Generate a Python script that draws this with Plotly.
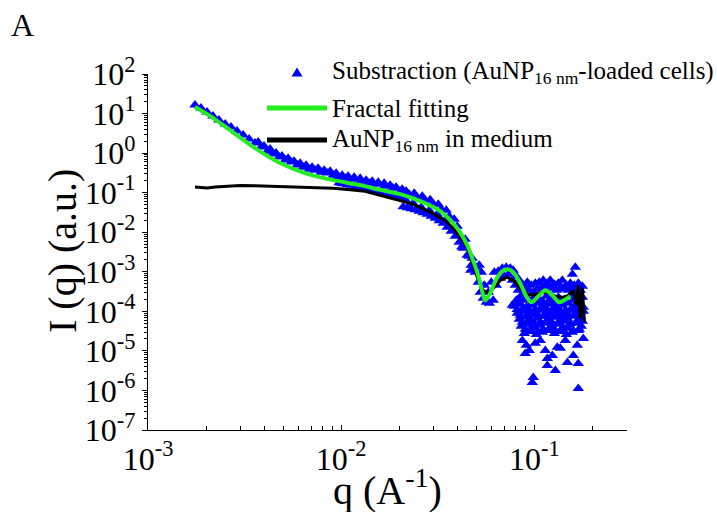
import plotly.graph_objects as go

# ---- SAXS curves ---------------------------------------------------------
# Subtracted scattering of AuNP(16 nm)-loaded cells (blue triangles)
sub_q_low = [0.00175, 0.00188, 0.00202, 0.00217, 0.00233, 0.00251, 0.00269, 0.00289,
             0.00311, 0.00334, 0.00358, 0.00385, 0.00414, 0.00444, 0.00477, 0.00513,
             0.00551, 0.00592, 0.00635, 0.00683, 0.00733, 0.00788, 0.00846, 0.00909]
sub_i_low = [16.4, 13.8, 10.9, 8.65, 6.84, 5.42, 4.55, 3.61,
             2.86, 2.26, 1.79, 1.42, 1.12, 0.943, 0.792, 0.665,
             0.592, 0.497, 0.442, 0.393, 0.371, 0.330, 0.312, 0.277]

sub_q_upper = [0.003716, 0.003988, 0.004286, 0.004602, 0.004943, 0.005312, 0.005706,
               0.006131, 0.006586, 0.007074, 0.0076, 0.008165, 0.00877, 0.009421,
               0.01012, 0.01087, 0.01168, 0.01254, 0.01347, 0.01447, 0.01555, 0.0167,
               0.01794, 0.01927, 0.0207, 0.02171, 0.02389, 0.02628, 0.02891, 0.03182,
               0.03500, 0.03850]
sub_i_upper = [1.899, 1.504, 1.263, 1.0, 0.8396, 0.7468, 0.6271,
               0.5581, 0.4968, 0.4421, 0.4172, 0.3713, 0.3503, 0.3117,
               0.2774, 0.2617, 0.2468, 0.2329, 0.2073, 0.1955, 0.1845, 0.1739,
               0.1548, 0.1378, 0.1226, 0.1092, 0.0971, 0.0815, 0.0665, 0.0512,
               0.0361, 0.02134]

sub_q_mid = [0.009534, 0.01, 0.01049, 0.011003, 0.01154, 0.012104, 0.012695, 0.013316,
             0.013966, 0.014648, 0.015364, 0.016114, 0.016902, 0.017727, 0.018593,
             0.019502, 0.020454, 0.021453, 0.022501, 0.023601, 0.024753, 0.025963,
             0.027231, 0.028561, 0.029956, 0.03142, 0.032955, 0.034564, 0.036253,
             0.038024, 0.03988, 0.041829, 0.043872, 0.046015, 0.047691, 0.049426,
             0.0421, 0.0469, 0.0500, 0.0519]
sub_i_mid = [0.2468, 0.1739, 0.2329, 0.1641, 0.2197, 0.1461, 0.1955, 0.1300,
             0.1739, 0.1157, 0.1641, 0.1092, 0.1461, 0.0971, 0.1300,
             0.0815, 0.1092, 0.0684, 0.0916, 0.0542, 0.0769, 0.0430,
             0.0646, 0.0361, 0.0512, 0.02855, 0.03822, 0.02013, 0.02542,
             0.01191, 0.01418, 0.006272, 0.006648, 0.002469, 0.002197, 0.000971,
             0.00420, 0.00110, 0.00130, 0.00146]

sub_q_band = [0.009764, 0.010241, 0.010742, 0.011267, 0.011818, 0.012396, 0.013002,
              0.013637, 0.014304, 0.015003, 0.015736, 0.016505, 0.017311, 0.018157,
              0.019044, 0.019975, 0.020951, 0.021975, 0.023048, 0.024174, 0.025356,
              0.026595, 0.027894, 0.029257, 0.030687, 0.032186, 0.033759, 0.035408,
              0.037138, 0.038953, 0.040856, 0.042852, 0.044946, 0.047142]
sub_i_band = [0.1791, 0.1690, 0.1594, 0.1548, 0.1461, 0.1378, 0.1300,
              0.1226, 0.1157, 0.1092, 0.1030, 0.1000, 0.0943, 0.0890,
              0.0839, 0.0792, 0.04420, 0.04172, 0.03934, 0.03713, 0.03401,
              0.03116, 0.02855, 0.02542, 0.02262, 0.01955, 0.01690, 0.01338,
              0.01060, 0.00792, 0.00558, 0.00393, 0.00262, 0.00146]

sub_q_high = [0.0513, 0.0525, 0.0532, 0.0544, 0.0551, 0.0564, 0.0578, 0.0585, 0.0599,
              0.0613, 0.0621, 0.0636, 0.0651, 0.0667, 0.0683, 0.0699, 0.0716, 0.0733,
              0.0751, 0.0769, 0.0778, 0.0797, 0.0807, 0.0826, 0.0836, 0.0856, 0.0867,
              0.0888, 0.0898, 0.0769,
              0.0920, 0.0942, 0.0965, 0.0988, 0.1012, 0.1036, 0.1061, 0.1087, 0.1113,
              0.1140, 0.1168, 0.1196, 0.1210, 0.1240, 0.1270, 0.1300, 0.1332, 0.1364,
              0.1397, 0.1430, 0.1465, 0.1500, 0.1537, 0.1574, 0.1612, 0.1631, 0.1651,
              0.1690, 0.1731, 0.1773, 0.1574]
sub_i_high = [5.42e-4, 3.03e-4, 9.71e-4, 2.13e-4, 4.55e-4, 1.69e-4, 3.03e-4, 1.59e-4, 5.42e-4,
              1.90e-4, 9.71e-4, 4.55e-4, 1.03e-3, 6.84e-4, 1.23e-3, 7.69e-4, 1.30e-3, 8.64e-4,
              1.23e-3, 6.09e-4, 1.09e-3, 4.55e-4, 7.69e-4, 3.40e-4, 6.09e-4, 2.54e-4, 4.82e-4,
              2.13e-4, 4.05e-4, 1.42e-4,
              5.42e-4, 3.40e-4, 4.55e-4, 3.03e-4, 5.11e-4, 3.60e-4, 5.42e-4, 3.82e-4, 6.09e-4,
              4.29e-4, 5.11e-4, 3.82e-4, 6.09e-4, 4.05e-4, 4.82e-4, 3.40e-4, 5.11e-4, 3.60e-4,
              6.09e-4, 4.05e-4, 4.55e-4, 3.40e-4, 5.11e-4, 3.82e-4, 4.55e-4, 1.30e-3, 3.03e-4,
              5.11e-4, 3.40e-4, 4.29e-4, 8.64e-4]

sub_q_noise = [0.0807, 0.0867, 0.0931, 0.1000, 0.1074, 0.1154, 0.1240, 0.1332, 0.1430, 0.1537, 0.1651, 0.1773,
               0.0836, 0.0898, 0.0965, 0.1036, 0.1113, 0.1196, 0.1285, 0.1380, 0.1483, 0.1593, 0.1711,
               0.0788, 0.0846, 0.0909, 0.0976, 0.1049, 0.1127, 0.1210, 0.1300, 0.1397, 0.1500, 0.1612, 0.1731,
               0.0816, 0.0877, 0.0942, 0.1012, 0.1087, 0.1168, 0.1254, 0.1348, 0.1448, 0.1555, 0.1670, 0.1794,
               0.0816, 0.0877, 0.0942, 0.1012, 0.1087, 0.1168, 0.1254, 0.1348, 0.1448, 0.1555, 0.1670, 0.1794,
               0.0846, 0.0909, 0.0976, 0.1049, 0.1127, 0.1210, 0.1300, 0.1397, 0.1500, 0.1612, 0.1731,
               0.0836, 0.0898, 0.0965, 0.1036, 0.1113, 0.1196, 0.1285, 0.1380, 0.1483, 0.1593, 0.1711,
               0.0867, 0.0931, 0.1000, 0.1074, 0.1154, 0.1240, 0.1332, 0.1430, 0.1537, 0.1651, 0.1773,
               0.0856, 0.0920, 0.0988, 0.1061, 0.1140, 0.1225, 0.1316, 0.1413, 0.1518, 0.1631, 0.1752,
               0.0898, 0.0965, 0.1036, 0.1113, 0.1196, 0.1285, 0.1380, 0.1483, 0.1593, 0.1711,
               0.0888, 0.0953, 0.1024, 0.1100, 0.1182, 0.1270, 0.1364, 0.1465, 0.1574, 0.1690,
               0.0867, 0.0909, 0.0898, 0.0942, 0.1012, 0.1074, 0.1140, 0.1168, 0.1240, 0.1168,
               0.1285, 0.1316, 0.1364, 0.1448, 0.1483, 0.1593, 0.1670, 0.1690, 0.1794, 0.0988,
               0.0976, 0.1690]
sub_i_noise = [1.90e-4, 2.40e-4, 2.01e-4, 2.26e-4, 1.90e-4, 2.40e-4, 2.01e-4, 2.26e-4, 1.90e-4, 2.40e-4, 2.01e-4, 2.26e-4,
               1.69e-4, 1.90e-4, 1.59e-4, 1.79e-4, 1.69e-4, 1.90e-4, 1.59e-4, 1.79e-4, 1.69e-4, 1.90e-4, 1.59e-4,
               1.34e-4, 1.50e-4, 1.26e-4, 1.42e-4, 1.59e-4, 1.34e-4, 1.50e-4, 1.26e-4, 1.42e-4, 1.59e-4, 1.34e-4, 1.50e-4,
               1.12e-4, 1.19e-4, 1.06e-4, 1.12e-4, 1.26e-4, 1.06e-4, 1.19e-4, 1.12e-4, 1.06e-4, 1.19e-4, 1.12e-4, 1.26e-4,
               8.90e-5, 1.00e-4, 8.40e-5, 9.43e-5, 1.06e-4, 8.90e-5, 1.00e-4, 8.40e-5, 9.43e-5, 1.06e-4, 8.90e-5, 1.00e-4,
               7.92e-5, 7.47e-5, 8.40e-5, 7.92e-5, 7.47e-5, 8.40e-5, 7.92e-5, 7.47e-5, 8.40e-5, 7.92e-5, 7.47e-5,
               6.27e-5, 7.05e-5, 5.92e-5, 6.65e-5, 7.47e-5, 6.27e-5, 7.05e-5, 5.92e-5, 6.65e-5, 7.47e-5, 6.27e-5,
               5.27e-5, 5.58e-5, 4.97e-5, 5.27e-5, 5.58e-5, 4.97e-5, 5.27e-5, 5.58e-5, 4.97e-5, 5.27e-5, 5.58e-5,
               4.17e-5, 4.69e-5, 3.93e-5, 4.42e-5, 4.97e-5, 4.17e-5, 4.69e-5, 3.93e-5, 4.42e-5, 4.97e-5, 4.17e-5,
               3.50e-5, 3.71e-5, 3.30e-5, 3.50e-5, 3.71e-5, 3.30e-5, 3.50e-5, 3.71e-5, 3.30e-5, 3.50e-5,
               2.77e-5, 3.11e-5, 2.61e-5, 2.94e-5, 3.30e-5, 2.77e-5, 3.11e-5, 2.61e-5, 2.94e-5, 3.30e-5,
               1.84e-5, 1.38e-5, 8.64e-6, 1.03e-5, 1.55e-5, 1.84e-5, 1.03e-5, 6.46e-6, 7.69e-6, 4.30e-6,
               3.21e-6, 1.23e-5, 1.16e-5, 1.84e-5, 5.12e-6, 7.69e-6, 1.38e-5, 4.83e-6, 2.07e-5, 2.13e-6,
               1.59e-6, 1.12e-6]

# AuNP(16 nm) dispersed in culture medium (black line)
med_q = [0.00175, 0.00188, 0.00202, 0.00223, 0.00257, 0.00300, 0.00358, 0.00428, 0.00513,
         0.00613, 0.00751, 0.00909, 0.01114, 0.01331, 0.0159, 0.0195, 0.0236, 0.0289, 0.0338,
         0.0376, 0.0414, 0.0450, 0.0483, 0.0513, 0.0544, 0.0578, 0.0621, 0.0667, 0.0724,
         0.0787, 0.0846, 0.0920, 0.0989, 0.1074, 0.1182, 0.1286, 0.1397, 0.1500, 0.1592,
         0.1652, 0.1690, 0.1731, 0.1775, 0.1818]
med_i = [0.140, 0.135, 0.131, 0.140, 0.146, 0.152, 0.150, 0.146, 0.146,
         0.142, 0.138, 0.130, 0.119, 0.108, 0.0862, 0.0646, 0.0512, 0.0321, 0.0213,
         0.0134, 0.00747, 0.00417, 0.00146, 6.1e-4, 3.4e-4, 2.86e-4, 4.06e-4, 6.1e-4, 7.3e-4,
         5.75e-4, 3.8e-4, 2.7e-4, 2.54e-4, 3.0e-4, 3.0e-4, 2.4e-4, 2.26e-4, 2.54e-4, 3.4e-4,
         1.42e-4, 4.55e-4, 6.6e-5, 3.8e-4, 5.3e-5]

# Mass-fractal model fit (green line)
fit_q = [0.00175, 0.00210, 0.00266, 0.00358, 0.00483, 0.00650, 0.00909, 0.01254, 0.01592,
         0.02022, 0.02567, 0.03258, 0.03991, 0.04496, 0.04773, 0.05068, 0.0531, 0.0557,
         0.0591, 0.0635, 0.0682, 0.0724, 0.0778, 0.0846, 0.0909, 0.0965, 0.1037, 0.1140,
         0.1240, 0.1348, 0.1449, 0.1538]
fit_i = [14.6, 8.6, 3.8, 1.34, 0.56, 0.312, 0.207, 0.155, 0.118,
         0.0917, 0.061, 0.034, 0.0126, 0.00469, 0.0022, 9.7e-4, 4.05e-4, 1.9e-4,
         2.86e-4, 6.46e-4, 1.03e-3, 1.16e-3, 9.7e-4, 5.1e-4, 2.4e-4, 1.69e-4, 2.26e-4, 3.4e-4,
         2.54e-4, 1.69e-4, 2.0e-4, 2.4e-4]

legend_labels = ["Substraction (AuNP<sub>16 nm</sub>-loaded cells)",
                 "Fractal fitting",
                 "AuNP<sub>16 nm</sub> in medium"]

y_major = [-7, -6, -5, -4, -3, -2, -1, 0, 1, 2]
x_major = [-3, -2, -1]

BLUE = "#0000FF"
GREEN = "#22EE22"
FONT = "Liberation Serif, Times New Roman, serif"

sub_q = sub_q_low + sub_q_upper + sub_q_mid + sub_q_band + sub_q_high + sub_q_noise
sub_i = sub_i_low + sub_i_upper + sub_i_mid + sub_i_band + sub_i_high + sub_i_noise

fig = go.Figure()
fig.add_trace(go.Scatter(x=sub_q, y=sub_i, mode="markers",
                         marker=dict(symbol="triangle-up", size=10, color=BLUE,
                                     line=dict(width=0)),
                         showlegend=False))
fig.add_trace(go.Scatter(x=med_q, y=med_i, mode="lines",
                         line=dict(color="black", width=3), showlegend=False))
fig.add_trace(go.Scatter(x=fit_q, y=fit_i, mode="lines",
                         line=dict(color=GREEN, width=4, shape="spline", smoothing=0.8),
                         showlegend=False))

tick_font = dict(family=FONT, size=32, color="black")
minor_y = [k * 10.0 ** e for e in range(-7, 2) for k in range(2, 10)]
minor_x = [k * 10.0 ** e for e in range(-3, 0) for k in range(2, 10) if k * 10.0 ** e <= 0.3]

fig.update_yaxes(type="log", range=[-7, 2], showline=True, linecolor="black", linewidth=1.2,
                 showgrid=False, zeroline=False, ticks="outside", ticklen=5, tickwidth=1.2,
                 tickcolor="black", tickmode="array",
                 tickvals=[10.0 ** e for e in y_major],
                 ticktext=[f"10<sup>{e}</sup>" for e in y_major],
                 tickfont=tick_font,
                 minor=dict(tickmode="array", tickvals=minor_y, ticks="outside",
                            ticklen=3, tickcolor="black", showgrid=False))
fig.update_xaxes(type="log", range=[-3, -0.52], showline=True, linecolor="black", linewidth=1.2,
                 showgrid=False, zeroline=False, ticks="inside", ticklen=5, tickwidth=1.2,
                 tickcolor="black", tickmode="array",
                 tickvals=[10.0 ** e for e in x_major],
                 ticktext=[f"10<sup>{e}</sup>" for e in x_major],
                 tickfont=tick_font,
                 minor=dict(tickmode="array", tickvals=minor_x, ticks="inside",
                            ticklen=4, tickcolor="black", showgrid=False))

# Hand-drawn legend block (long line samples)
def px_x(p):
    return (p - 148) / 479.0

def px_y(p):
    return (430 - p) / 356.0

shapes = [
    dict(type="path", xref="paper", yref="paper",
         path=f"M {px_x(291.5)},{px_y(76.5)} L {px_x(302.5)},{px_y(76.5)} L {px_x(297)},{px_y(67.5)} Z",
         fillcolor=BLUE, line=dict(width=0)),
    dict(type="line", xref="paper", yref="paper", x0=px_x(267), x1=px_x(327),
         y0=px_y(108), y1=px_y(108), line=dict(color=GREEN, width=5)),
    dict(type="line", xref="paper", yref="paper", x0=px_x(267), x1=px_x(327),
         y0=px_y(140), y1=px_y(140), line=dict(color="black", width=5)),
]
annotations = []
for label, row in zip(legend_labels, [73, 108, 140]):
    annotations.append(dict(text=label, xref="paper", yref="paper", x=px_x(330), y=px_y(row),
                            xanchor="left", yanchor="middle", showarrow=False,
                            font=dict(family=FONT, size=25, color="black")))

annotations += [
    dict(text="I (q) (a.u.)", xref="paper", yref="paper", x=px_x(62), y=px_y(251),
         textangle=-90, showarrow=False, xanchor="center", yanchor="middle",
         font=dict(family=FONT, size=40, color="black")),
    dict(text="q (A<sup>-1</sup>)", xref="paper", yref="paper", x=0.5, y=px_y(487),
         showarrow=False, xanchor="center", yanchor="middle",
         font=dict(family=FONT, size=40, color="black")),
    dict(text="A", xref="paper", yref="paper", x=px_x(22), y=px_y(25),
         showarrow=False, xanchor="center", yanchor="middle",
         font=dict(family=FONT, size=32, color="black")),
]

fig.update_layout(width=717, height=512, margin=dict(l=148, r=90, t=74, b=82),
                  plot_bgcolor="white", paper_bgcolor="white",
                  shapes=shapes, annotations=annotations, showlegend=False)

fig.write_html("out.html")
